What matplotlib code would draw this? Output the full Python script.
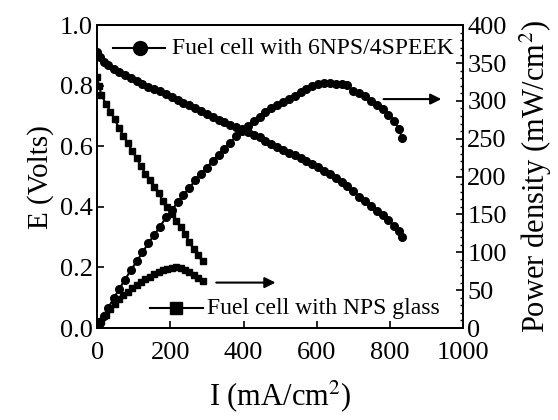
import matplotlib
matplotlib.use("Agg")
from matplotlib import pyplot as plt
from matplotlib.lines import Line2D

plt.rcParams["font.family"] = ["Liberation Serif", "DejaVu Serif"]
plt.rcParams["mathtext.fontset"] = "stix"

# 6NPS/4SPEEK cell: current (mA/cm2), voltage (V), power density (mW/cm2)
i_speek = [0, 8, 18, 30, 45, 60, 76, 92, 108, 124, 140, 156, 172, 188, 204, 220,
           236, 252, 268, 284, 300, 316, 332, 348, 364, 380, 396, 412, 428, 444,
           460, 476, 492, 508, 524, 540, 556, 572, 588, 604, 620, 636, 652, 668,
           684, 700, 716, 732, 748, 764, 780, 796, 812, 824, 834]
e_speek = [0.91, 0.895, 0.88, 0.87, 0.857, 0.845, 0.835, 0.825, 0.815, 0.806,
           0.797, 0.79, 0.782, 0.773, 0.764, 0.752, 0.744, 0.735, 0.726, 0.718,
           0.708, 0.698, 0.688, 0.68, 0.672, 0.665, 0.657, 0.648, 0.638, 0.63,
           0.619, 0.609, 0.599, 0.588, 0.578, 0.57, 0.56, 0.551, 0.542, 0.532,
           0.52, 0.509, 0.497, 0.481, 0.468, 0.452, 0.434, 0.418, 0.403, 0.386,
           0.372, 0.356, 0.338, 0.32, 0.302]
p_speek = [0, 7, 16, 26, 39, 51, 64, 76, 88, 100, 112, 123, 134, 146, 156, 166,
           176, 185, 195, 204, 212, 221, 229, 237, 245, 253, 260, 267, 273, 279,
           285, 290, 294, 298, 302, 306, 312, 316, 320, 322, 323, 324, 322, 322,
           321, 313, 310, 306, 300, 294, 289, 282, 274, 263, 251]

# NPS glass cell
i_nps = [0, 5, 12, 24, 36, 48, 60, 72, 84, 96, 108, 120, 132, 144, 156, 168,
         180, 192, 204, 216, 228, 240, 252, 264, 276, 288]
e_nps = [0.83, 0.80, 0.77, 0.74, 0.715, 0.69, 0.66, 0.635, 0.61, 0.585, 0.56,
         0.535, 0.51, 0.49, 0.465, 0.445, 0.42, 0.40, 0.375, 0.355, 0.335, 0.31,
         0.285, 0.26, 0.24, 0.22]
p_nps = [0, 4, 9, 17, 25, 32, 38, 43, 48, 53, 57, 61, 65, 68, 71, 74,
         77, 78.5, 79.5, 80, 79, 77, 74, 70, 66, 62]

fig = plt.figure(figsize=(5.58, 4.2), dpi=100)
ax = fig.add_axes([0.174, 0.219, 0.656, 0.721])
ax2 = ax.twinx()

kw = dict(color="black", lw=1.5)
ax.plot(i_speek, e_speek, marker="o", ms=5.5, **kw)
ax.plot(i_nps, e_nps, marker="s", ms=5, **kw)
ax2.plot(i_speek, p_speek, marker="o", ms=5.5, **kw)
ax2.plot(i_nps, p_nps, marker="s", ms=5, **kw)

ax.set_xlim(0, 1000)
ax.set_ylim(0, 1.0)
ax2.set_ylim(0, 400)
ax.set_xticks([0, 200, 400, 600, 800, 1000])
ax.set_yticks([0, 0.2, 0.4, 0.6, 0.8, 1.0])
ax.set_yticklabels(["0.0", "0.2", "0.4", "0.6", "0.8", "1.0"])
ax2.set_yticks(range(0, 401, 50))
ax2.set_yticks(range(0, 401, 10), minor=True)

ax.tick_params(direction="in", length=5, width=1.2, labelsize=19, pad=3)
ax.tick_params(axis="x", pad=10)
ax2.tick_params(direction="in", length=5, width=1.2, labelsize=19, pad=3)
ax2.tick_params(which="minor", direction="in", length=2.5, width=1)
for a in (ax, ax2):
    for s in a.spines.values():
        s.set_linewidth(1.3)

ax.set_xlabel("I (mA/cm$^2$)", fontsize=22, labelpad=10)
ax.set_ylabel("E (Volts)", fontsize=21, labelpad=4)
ax2.set_ylabel("Power density (mW/cm$^2$)", fontsize=22, labelpad=8)

# legend entries drawn by hand
ax.add_line(Line2D([0.044, 0.186], [0.924, 0.924], transform=ax.transAxes, **kw))
ax.add_line(Line2D([0.117], [0.924], transform=ax.transAxes, marker="o", ms=10, color="black"))
ax.text(0.205, 0.924, "Fuel cell with 6NPS/4SPEEK", transform=ax.transAxes,
        fontsize=17, va="center")
ax.add_line(Line2D([0.145, 0.29], [0.066, 0.066], transform=ax.transAxes, **kw))
ax.add_line(Line2D([0.216], [0.066], transform=ax.transAxes, marker="s", ms=9, color="black"))
ax.text(0.30, 0.066, "Fuel cell with NPS glass", transform=ax.transAxes,
        fontsize=17, va="center")

arrow = dict(arrowstyle="-|>", color="black", lw=1.5, mutation_scale=16)
ax.annotate("", xy=(948, 0.756), xytext=(775, 0.756), arrowprops=arrow)
ax.annotate("", xy=(495, 0.15), xytext=(318, 0.15), arrowprops=arrow)

fig.savefig("out.png", dpi=100)
